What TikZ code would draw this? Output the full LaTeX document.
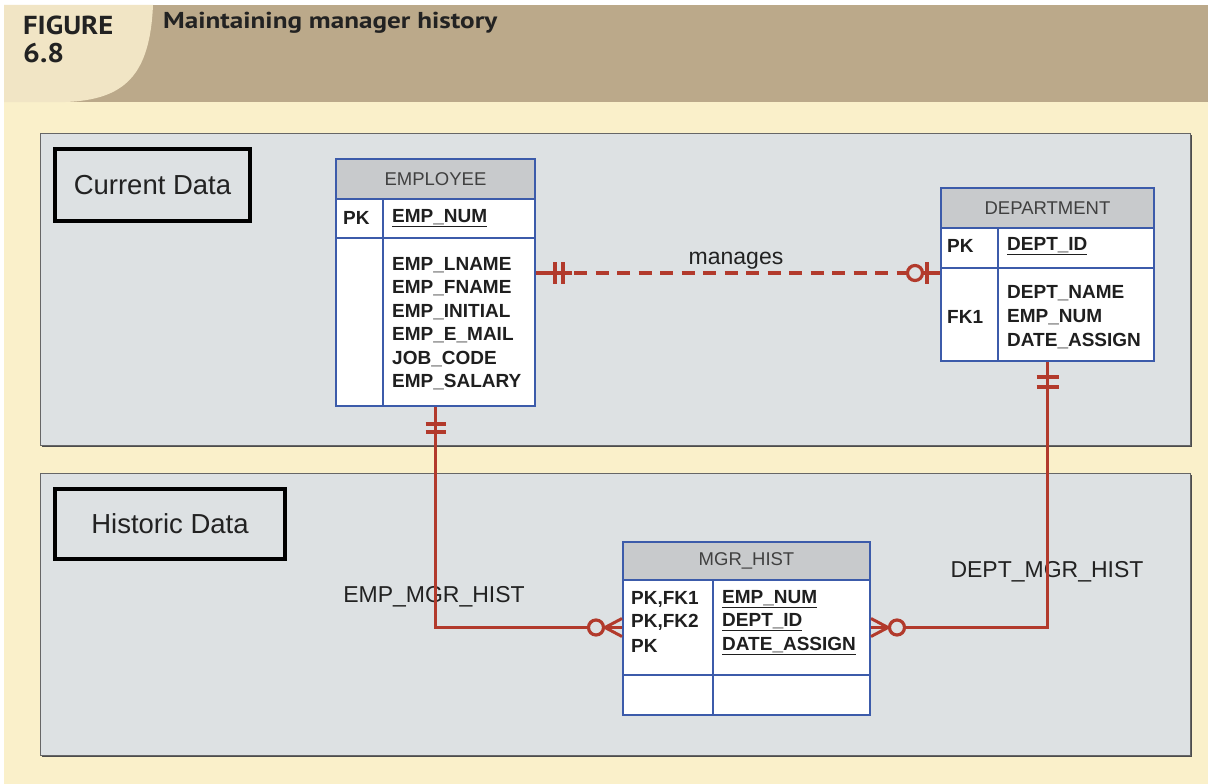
\documentclass[tikz,border=0pt]{standalone}
\usepackage{fontspec}
\setmainfont{Liberation Sans}
\newfontfamily\headfont{PT Sans}
\usetikzlibrary{calc}
\definecolor{tanband}{HTML}{BBA98A}
\definecolor{tabcol}{HTML}{F1E5C5}
\definecolor{creamcol}{HTML}{FAF0CA}
\definecolor{panelcol}{HTML}{DDE1E3}
\definecolor{theadcol}{HTML}{C8CACC}
\definecolor{tbluecol}{HTML}{3C5BAA}
\definecolor{relcol}{HTML}{B23A2C}
\definecolor{txtcol}{HTML}{222222}
\begin{document}
\begin{tikzpicture}[x=1pt,y=-1pt,
  panelbox/.style={fill=panelcol,draw=black!60,line width=0.8pt},
  labelbox/.style={draw=black,line width=4pt,fill=panelcol,inner sep=0pt,anchor=north west,
    font=\fontsize{27.5}{32}\selectfont,text=txtcol},
  thead/.style={fill=theadcol,draw=tbluecol,line width=2pt,inner sep=0pt,anchor=north west,
    font=\fontsize{18.5}{22}\selectfont,text=black!75},
  tcell/.style={fill=white,draw=tbluecol,line width=2pt,inner sep=0pt,anchor=north west},
  tline/.style={draw=tbluecol,line width=2pt},
  attr/.style={anchor=west,inner sep=0pt,font=\fontsize{19}{22}\selectfont\bfseries,text=black!88},
  rel/.style={draw=relcol,line width=3.5pt},
  ring/.style={draw=relcol,line width=3.2pt,fill=panelcol},
  rlabel/.style={inner sep=0pt,font=\fontsize{23}{27}\selectfont,text=txtcol},
  headtxt/.style={anchor=base west,inner sep=0pt,text=txtcol}
]
\useasboundingbox (0,0) rectangle (1208,784);
\fill[white] (0,0) rectangle (1208,784);
\fill[creamcol] (4,5) rectangle (1208,784);
\fill[tanband] (4,5) rectangle (1208,102);
\fill[tabcol] (4,5) -- (153,5) .. controls (150,75) and (125,100) .. (65,102) -- (4,102) -- cycle;
\node[headtxt,font=\headfont\bfseries\fontsize{26}{30}\selectfont] (fig) at (23,35) {\scalebox{1.1}[1]{FIGURE}};
\node[headtxt,font=\headfont\bfseries\fontsize{27}{30}\selectfont] (fignum) at (23,63) {\scalebox{1.1}[1]{6.8}};
\node[headtxt,font=\headfont\bfseries\fontsize{23}{27}\selectfont] (title) at (163,29) {\scalebox{1.18}[1]{Maintaining manager history}};

% panels
\fill[black!70] (41.5,135) rectangle (1191.5,447);
\draw[panelbox] (40,133) rectangle (1190,445);
\fill[black!70] (41.5,475) rectangle (1191.5,757);
\draw[panelbox] (40,473) rectangle (1190,755);

\node[labelbox,minimum width=195,minimum height=72] (cur) at (53,147) {Current Data};
\node[labelbox,minimum width=230,minimum height=70] (hist) at (53,487) {Historic Data};

% EMPLOYEE
\node[thead,minimum width=199,minimum height=40] (empH) at (335,158) {EMPLOYEE};
\node[tcell,minimum width=199,minimum height=39] (empK) at (335,198) {};
\node[tcell,minimum width=199,minimum height=168] (empA) at (335,237) {};
\draw[tline] (383,198) -- (383,405);
\node[attr] (empPK) at (343,218) {PK};
\node[attr] (empNum) at (392,218) {\underline{EMP\_NUM}};
\foreach \t [count=\i] in {EMP\_LNAME,EMP\_FNAME,EMP\_INITIAL,EMP\_E\_MAIL,JOB\_CODE,EMP\_SALARY}
  \node[attr] (ea\i) at (392,{241.5+23.5*\i}) {\t};

% DEPARTMENT
\node[thead,minimum width=213,minimum height=40] (depH) at (940,187) {DEPARTMENT};
\node[tcell,minimum width=213,minimum height=40] (depK) at (940,227) {};
\node[tcell,minimum width=213,minimum height=93] (depA) at (940,267) {};
\draw[tline] (998,227) -- (998,360);
\node[attr] (depPK) at (947,246) {PK};
\node[attr] (depId) at (1007,246) {\underline{DEPT\_ID}};
\node[attr] (depFK) at (947,317) {FK1};
\node[attr] (da1) at (1007,293) {DEPT\_NAME};
\node[attr] (da2) at (1007,317) {EMP\_NUM};
\node[attr] (da3) at (1007,341) {DATE\_ASSIGN};

% MGR_HIST
\node[thead,minimum width=247,minimum height=38] (mgrH) at (622,541) {MGR\_HIST};
\node[tcell,minimum width=247,minimum height=95] (mgrK) at (622,579) {};
\node[tcell,minimum width=247,minimum height=40] (mgrE) at (622,674) {};
\draw[tline] (713,579) -- (713,714);
\node[attr] (mk1) at (631,599) {PK,FK1};
\node[attr] (mk2) at (631,622) {PK,FK2};
\node[attr] (mk3) at (631,646) {PK};
\node[attr] (mv1) at (722,599) {\underline{EMP\_NUM}};
\node[attr] (mv2) at (722,622) {\underline{DEPT\_ID}};
\node[attr] (mv3) at (722,646) {\underline{DATE\_ASSIGN}};

% relationship labels
\node[rlabel] (lmanages) at (736,261) {manages};
\node[rlabel] (lemp) at (434,597) {EMP\_MGR\_HIST};
\node[rlabel] (ldep) at (1047,572) {DEPT\_MGR\_HIST};

% manages (dashed)
\coordinate (m1) at ($(empA.north east)+(0,36)$);
\coordinate (m2) at ($(depA.north west)+(0,6)$);
\draw[rel,dash pattern=on 13pt off 8.5pt,dash phase=-2pt] ($(m1)+(36,0)$) -- ($(m2)+(-40,0)$);
\draw[rel] (m1) -- ++(36,0);
\draw[rel] ($(m2)+(-40,0)$) -- (m2);
\draw[rel] ($(m1)+(19,-11)$) -- ++(0,22);
\draw[rel] ($(m1)+(27,-11)$) -- ++(0,22);
\draw[rel] ($(m2)+(-13,-11)$) -- ++(0,22);
\draw[ring] ($(m2)+(-25,0)$) circle (7.5);

% EMP_MGR_HIST
\draw[rel] (empA.south) |- (mgrK.west);
\draw[rel] ($(empA.south)+(-10,17)$) -- ++(20,0);
\draw[rel] ($(empA.south)+(-10,25)$) -- ++(20,0);
\draw[rel,line width=3pt] ($(mgrK.west)+(-17,0)$) -- ($(mgrK.west)+(0,-9)$);
\draw[rel,line width=3pt] ($(mgrK.west)+(-17,0)$) -- ($(mgrK.west)+(0,9)$);
\draw[ring] ($(mgrK.west)+(-26,0)$) circle (7.5);

% DEPT_MGR_HIST
\draw[rel] (depA.south) |- (mgrK.east);
\draw[rel] ($(depA.south)+(-11,15)$) -- ++(22,0);
\draw[rel] ($(depA.south)+(-11,25)$) -- ++(22,0);
\draw[rel,line width=3pt] ($(mgrK.east)+(17,0)$) -- ($(mgrK.east)+(0,-9)$);
\draw[rel,line width=3pt] ($(mgrK.east)+(17,0)$) -- ($(mgrK.east)+(0,9)$);
\draw[ring] ($(mgrK.east)+(26,0)$) circle (7.5);
\end{tikzpicture}
\end{document}
